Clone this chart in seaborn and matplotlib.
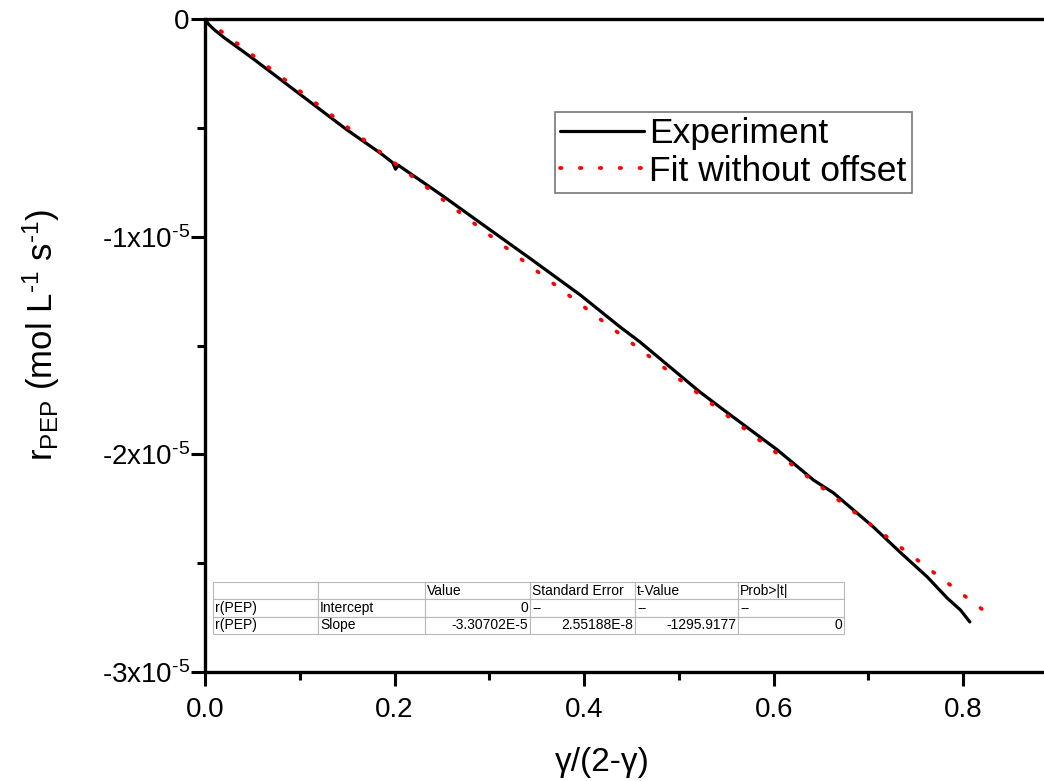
import numpy as np
import pandas as pd
import matplotlib
matplotlib.use('Agg')
import matplotlib.pyplot as plt
import seaborn as sns
from matplotlib.ticker import MultipleLocator, FixedLocator, FuncFormatter

# 实验数据 (gamma/(2-gamma), r_PEP 单位 1e-5)
exp_x = [0.000, 0.004, 0.010, 0.020, 0.050, 0.100, 0.150, 0.185, 0.198, 0.201,
         0.204, 0.210, 0.250, 0.290, 0.343, 0.396, 0.438, 0.459, 0.500, 0.522,
         0.550, 0.604, 0.642, 0.663, 0.705, 0.733, 0.762, 0.783, 0.797, 0.807]
exp_y = [0.000, -0.025, -0.050, -0.085, -0.180, -0.345, -0.510, -0.616, -0.660, -0.690,
         -0.672, -0.690, -0.810, -0.935, -1.100, -1.268, -1.415, -1.484, -1.633, -1.713,
         -1.805, -1.980, -2.118, -2.177, -2.333, -2.448, -2.563, -2.660, -2.715, -2.770]

# 拟合（无截距）
fit_slope = -3.30702e-5
fit_x = [0.0, 0.82]

# 拟合结果表
table_cols = ['', '', 'Value', 'Standard Error', 't-Value', 'Prob>|t|']
table_rows = [['r(PEP)', 'Intercept', '0', '--', '--', '--'],
              ['r(PEP)', 'Slope', '-3.30702E-5', '2.55188E-8', '-1295.9177', '0']]

sns.set_style('ticks')
plt.rcParams['font.family'] = ['Liberation Sans', 'DejaVu Sans']
plt.rcParams['mathtext.fontset'] = 'custom'
plt.rcParams['mathtext.rm'] = 'Liberation Sans'
plt.rcParams['mathtext.it'] = 'Liberation Sans:italic'
plt.rcParams['axes.unicode_minus'] = False
for k in ['text.color', 'axes.labelcolor', 'xtick.color', 'ytick.color']:
    plt.rcParams[k] = 'black'

df_exp = pd.DataFrame({'x': exp_x, 'y': np.array(exp_y) * 1e-5})
df_fit = pd.DataFrame({'x': fit_x, 'y': np.array(fit_x) * fit_slope})

fig = plt.figure(figsize=(10.44, 7.81), dpi=100)
ax = fig.add_axes([205 / 1044, 109 / 781, 853 / 1044, 653 / 781])

sns.lineplot(data=df_exp, x='x', y='y', ax=ax, color='black', lw=2.3,
             label='Experiment')
sns.lineplot(data=df_fit, x='x', y='y', ax=ax, color='red', lw=2.7,
             label='Fit without offset')
fit_line = ax.lines[1]
fit_line.set_dashes([0.4, 4.9])
fit_line.set_dash_capstyle('round')

ax.set_xlim(0, 0.9)
ax.set_ylim(-3e-5, 0)

ax.xaxis.set_major_locator(MultipleLocator(0.2))
ax.xaxis.set_minor_locator(MultipleLocator(0.1))
ax.xaxis.set_major_formatter(FuncFormatter(lambda v, p: f'{v:.1f}'))
ax.yaxis.set_major_locator(FixedLocator([0, -1e-5, -2e-5, -3e-5]))
ax.yaxis.set_minor_locator(FixedLocator([-0.5e-5, -1.5e-5, -2.5e-5]))


def yfmt(v, p):
    n = int(round(v / 1e-5))
    if n == 0:
        return '0'
    return f'{n}x10$^{{\\text{{-}}5}}$'


ax.yaxis.set_major_formatter(FuncFormatter(yfmt))
ax.tick_params(which='major', direction='out', length=10, width=2.2,
               labelsize=20, pad=1)
ax.tick_params(axis='x', which='major', pad=8)
ax.tick_params(which='minor', direction='out', length=6, width=2.2)

for s in ['left', 'bottom', 'top', 'right']:
    ax.spines[s].set_linewidth(2.4)
    ax.spines[s].set_color('black')

ax.set_xlabel('γ/(2-γ)', fontsize=24)
ax.xaxis.set_label_coords((602 - 205) / 853, -(747 - 672) / 653)
ax.set_ylabel(r'r$_{\mathrm{PEP}}$ (mol L$^{\text{-}1}$ s$^{\text{-}1}$)', fontsize=25)
ax.yaxis.set_label_coords(-(205 - 62) / 853, 1 - (335 - 19) / 653)

leg = ax.legend(loc='upper left', bbox_to_anchor=((555 - 205) / 853, 1 - (112 - 19) / 653),
                fontsize=25.5, frameon=True, fancybox=False, handlelength=2.35,
                handletextpad=0.15, borderpad=0.15, labelspacing=0.12,
                borderaxespad=0)
leg.get_frame().set_edgecolor('#555555')
leg.get_frame().set_linewidth(1.2)

# 参数表
widths = np.array([105, 107, 105, 105, 103, 106]) / 853
tbl = ax.table(cellText=table_rows, colLabels=table_cols, colWidths=list(widths),
               cellLoc='left', colLoc='left',
               bbox=[(213 - 205) / 853, (672 - 634) / 653, 631 / 853, 52 / 653])
tbl.auto_set_font_size(False)
tbl.set_fontsize(10)
for (r, c), cell in tbl.get_celld().items():
    cell.set_edgecolor('#b8b8b8')
    cell.set_linewidth(0.8)
    cell.set_facecolor('white')
    cell.PAD = 0.02
    txt = cell.get_text().get_text()
    if r > 0 and c >= 2 and txt != '--':
        cell._loc = 'right'
        cell.get_text().set_ha('right')

fig.savefig('out.png', dpi=100)
